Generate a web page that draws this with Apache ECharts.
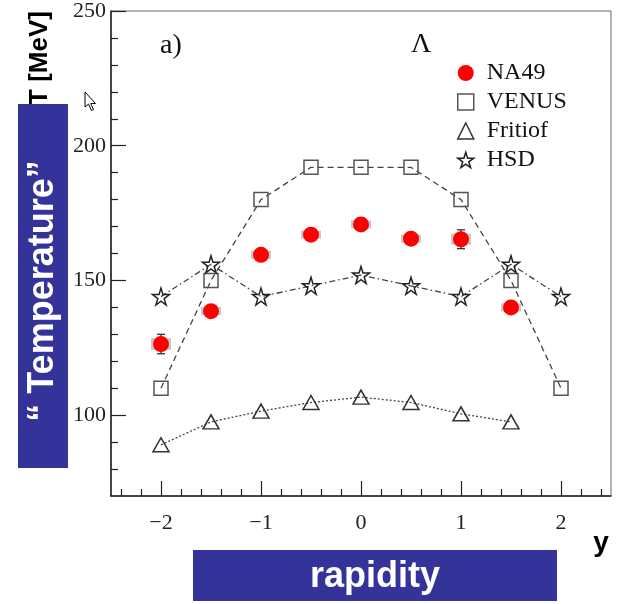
<!DOCTYPE html>
<html><head><meta charset="utf-8">
<script src="https://cdn.jsdelivr.net/npm/echarts@6/dist/echarts.min.js"></script>
<style>html,body{margin:0;padding:0;background:#fff}#c{width:621px;height:604px}</style>
</head><body><div id="c"></div>
<script>
// ---- data ----
const rapidity = [-2, -1.5, -1, -0.5, 0, 0.5, 1, 1.5, 2];
const na49Y = [-2, -1.5, -1, -0.5, 0, 0.5, 1, 1.5];
const na49T = [126.4, 138.6, 159.5, 167, 170.8, 165.5, 165.3, 140];
const na49Stat = [3.6, 1, 1.5, 1.2, 2.2, 2, 3.5, 1.2];
const na49Sys = [2.2, 1.5, 1.5, 1.5, 1.5, 1.5, 2, 1.5];
const venusT = [110, 150, 180, 192, 192, 192, 180, 150, 110];
const fritiofY = [-2, -1.5, -1, -0.5, 0, 0.5, 1, 1.5];
const fritiofT = [89, 97.5, 101.5, 104.7, 106.7, 104.7, 100.5, 97.5];
const hsdT = [144, 156, 144, 148, 152, 148, 144, 156, 144];
const xMajor = [-2, -1, 0, 1, 2];
const xMinor = [-2.4, -2.2, -1.8, -1.6, -1.4, -1.2, -0.8, -0.6, -0.4, -0.2, 0.2, 0.4, 0.6, 0.8, 1.2, 1.4, 1.6, 1.8, 2.2, 2.4];
const yMajor = [100, 150, 200, 250];
const yMinor = [80, 90, 110, 120, 130, 140, 160, 170, 180, 190, 210, 220, 230, 240];

const STAR = 'path://M50,2 L61,37 L98,37 L68,59 L79,94 L50,73 L21,94 L32,59 L2,37 L39,37 Z';
const LINEC = '#444';
const MARKC = '#555';
const SERIF = '"Liberation Serif", "DejaVu Serif", serif';
const SANS = '"Liberation Sans", Arial, sans-serif';

const zip = (xs, ys) => xs.map((x, i) => [x, ys[i]]);

const chart = echarts.init(document.getElementById('c'), null, {renderer: 'canvas'});

function xAxisBase(extra) {
  return Object.assign({
    type: 'value', min: -2.5, max: 2.5, position: 'bottom',
    splitLine: {show: false}
  }, extra);
}
function yAxisBase(extra) {
  return Object.assign({
    type: 'value', min: 70, max: 250, position: 'left',
    splitLine: {show: false}
  }, extra);
}

const option = {
  animation: false,
  grid: {left: 111, top: 10, right: 10, bottom: 108, show: true, borderColor: '#666', borderWidth: 1},
  xAxis: [
    xAxisBase({
      axisLine: {show: true, onZero: false, lineStyle: {color: '#222', width: 1.5}},
      axisTick: {show: true, inside: true, length: 15, customValues: xMajor, lineStyle: {color: '#222', width: 1.2}},
      axisLabel: {show: true, customValues: xMajor, margin: 16,
        formatter: v => (v < 0 ? '\u2212' + Math.abs(v) : String(v)),
        fontFamily: SERIF, fontSize: 22, color: '#222'}
    }),
    xAxisBase({
      axisLine: {show: false, onZero: false},
      axisTick: {show: true, inside: true, length: 7, customValues: xMinor, lineStyle: {color: '#222', width: 1.2}},
      axisLabel: {show: false}
    })
  ],
  yAxis: [
    yAxisBase({
      axisLine: {show: true, onZero: false, lineStyle: {color: '#222', width: 1.5}},
      axisTick: {show: true, inside: true, length: 15, customValues: yMajor, lineStyle: {color: '#222', width: 1.2}},
      axisLabel: {show: true, customValues: yMajor, margin: 5,
        fontFamily: SERIF, fontSize: 22, color: '#222'}
    }),
    yAxisBase({
      axisLine: {show: false, onZero: false},
      axisTick: {show: true, inside: true, length: 7, customValues: yMinor, lineStyle: {color: '#222', width: 1.2}},
      axisLabel: {show: false}
    })
  ],
  legend: {
    orient: 'vertical', left: 452, top: 56, itemWidth: 16, itemHeight: 16, itemGap: 5,
    selectedMode: false,
    textStyle: {fontFamily: SERIF, fontSize: 24, lineHeight: 24, color: '#111', padding: [0, 0, 0, 8]},
    data: [
      {name: 'NA49', icon: 'circle', itemStyle: {color: '#ff0000', borderWidth: 0, opacity: 1}},
      {name: 'VENUS', icon: 'rect', itemStyle: {color: 'rgba(0,0,0,0)', borderColor: MARKC, borderWidth: 1.5, opacity: 1}},
      {name: 'Fritiof', icon: 'triangle', itemStyle: {color: 'rgba(0,0,0,0)', borderColor: '#333', borderWidth: 1.5, opacity: 1}},
      {name: 'HSD', icon: STAR, itemStyle: {color: 'rgba(0,0,0,0)', borderColor: '#222', borderWidth: 1.5, opacity: 1}}
    ]
  },
  series: [
    // connecting lines
    {type: 'line', data: zip(rapidity, venusT), symbol: 'none', silent: true, z: 2,
      lineStyle: {color: LINEC, width: 1.3, type: [6, 4]}},
    {type: 'line', data: zip(rapidity, hsdT), symbol: 'none', silent: true, z: 2,
      lineStyle: {color: LINEC, width: 1.3, type: [6, 3, 1.5, 3]}},
    {type: 'line', data: zip(fritiofY, fritiofT), symbol: 'none', silent: true, z: 2,
      lineStyle: {color: LINEC, width: 1.3, type: [2, 2]}},
    // NA49 uncertainties
    {type: 'custom', z: 3, silent: true,
      data: na49Y.map((x, i) => [x, na49T[i], na49Sys[i], na49Stat[i]]),
      renderItem: function (params, api) {
        const x = api.value(0), y = api.value(1), sys = api.value(2), st = api.value(3);
        const a = api.coord([x - 0.1, y + sys]), b = api.coord([x + 0.1, y - sys]);
        const s1 = api.coord([x, y + st]), s2 = api.coord([x, y - st]);
        return {type: 'group', children: [
          {type: 'rect', shape: {x: a[0], y: a[1], width: b[0] - a[0], height: b[1] - a[1]}, style: {fill: '#c8c8c8'}},
          {type: 'line', shape: {x1: s1[0], y1: s1[1], x2: s2[0], y2: s2[1]}, style: {stroke: '#333', lineWidth: 1.3}},
          {type: 'line', shape: {x1: s1[0] - 4, y1: s1[1], x2: s1[0] + 4, y2: s1[1]}, style: {stroke: '#333', lineWidth: 1.3}},
          {type: 'line', shape: {x1: s2[0] - 4, y1: s2[1], x2: s2[0] + 4, y2: s2[1]}, style: {stroke: '#333', lineWidth: 1.3}}
        ]};
      }},
    // markers
    {name: 'VENUS', type: 'scatter', data: zip(rapidity, venusT), symbol: 'rect', symbolSize: 14, z: 4,
      itemStyle: {color: 'rgba(0,0,0,0)', borderColor: MARKC, borderWidth: 1.5, opacity: 1}},
    {name: 'Fritiof', type: 'scatter', data: zip(fritiofY, fritiofT), symbol: 'triangle', symbolSize: [16, 14], z: 4,
      itemStyle: {color: 'rgba(0,0,0,0)', borderColor: '#333', borderWidth: 1.5, opacity: 1}},
    {name: 'HSD', type: 'scatter', data: zip(rapidity, hsdT), symbol: STAR, symbolSize: 17, z: 4,
      itemStyle: {color: 'rgba(0,0,0,0)', borderColor: '#222', borderWidth: 1.5, opacity: 1}},
    {name: 'NA49', type: 'scatter', data: zip(na49Y, na49T), symbol: 'circle', symbolSize: 16, z: 5,
      itemStyle: {color: '#ff0000', opacity: 1}}
  ],
  graphic: [
    {type: 'text', x: 160, y: 32, style: {text: 'a)', font: '28px ' + SERIF, fill: '#111'}},
    {type: 'text', x: 411, y: 31, style: {text: '\u039B', font: '28px ' + SERIF, fill: '#111'}},
    {type: 'text', x: 40, y: 58, rotation: Math.PI / 2,
      style: {text: 'T [MeV]', font: 'bold 26px ' + SANS, fill: '#000', align: 'center', verticalAlign: 'middle'}},
    {type: 'rect', shape: {x: 18, y: 104, width: 50, height: 364}, style: {fill: '#333399'}, z: 10},
    {type: 'text', x: 43, y: 291, rotation: Math.PI / 2, z: 11,
      style: {text: '\u201C Temperature\u201D', font: 'bold 36px ' + SANS, fill: '#fff', align: 'center', verticalAlign: 'middle'}},
    {type: 'text', x: 601, y: 543, style: {text: 'y', font: 'bold 28px ' + SANS, fill: '#000', align: 'center', verticalAlign: 'middle'}},
    {type: 'rect', shape: {x: 193, y: 550, width: 364, height: 51}, style: {fill: '#333399'}, z: 10},
    {type: 'text', x: 375, y: 577, z: 11,
      style: {text: 'rapidity', font: 'bold 36px ' + SANS, fill: '#fff', align: 'center', verticalAlign: 'middle'}},
    {type: 'polygon', z: 12,
      shape: {points: [[85, 92], [85, 107], [88.5, 104], [91.5, 110.5], [93.5, 109.5], [90.8, 103.5], [95.5, 103.5]]},
      style: {fill: '#fff', stroke: '#000', lineWidth: 1}}
  ]
};
chart.setOption(option);
</script>
</body></html>
